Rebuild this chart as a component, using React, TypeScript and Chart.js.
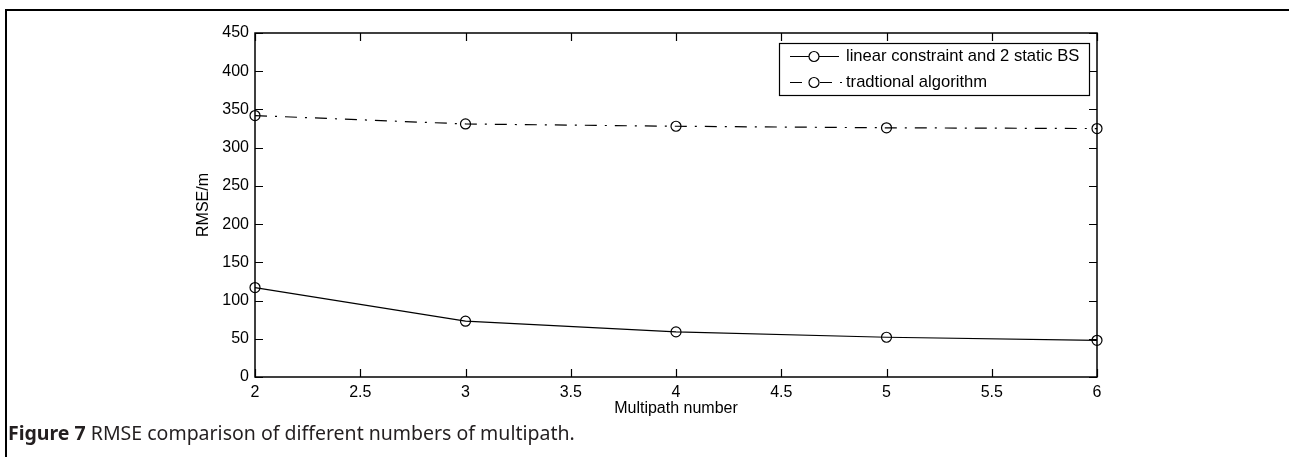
import React, { useEffect, useRef } from "react";
import { Chart, registerables } from "chart.js";

Chart.register(...registerables);

const multipathNumbers = [2, 3, 4, 5, 6];
const linearConstraintRmse = [117, 73, 59, 52, 48];
const traditionalRmse = [342, 331, 328, 326, 325];
const seriesLabels = ["linear constraint and 2 static BS", "tradtional algorithm"];
const xTickStep = 0.5;
const yTickStep = 50;

const FONT = "'Liberation Sans', Arial, sans-serif";

const boxPlugin = {
  id: "matlabBox",
  afterDraw(chart: any) {
    const { ctx, chartArea } = chart;
    const { left, right, top, bottom } = chartArea;
    const xs = chart.scales.x;
    const ys = chart.scales.y;
    const tl = 8;
    ctx.save();
    ctx.strokeStyle = "#000";
    ctx.lineWidth = 1.5;
    ctx.setLineDash([]);
    ctx.strokeRect(left, top, right - left, bottom - top);
    ctx.lineWidth = 1.2;
    ctx.beginPath();
    xs.ticks.forEach((t: any) => {
      const px = Math.round(xs.getPixelForValue(t.value)) + 0.5;
      ctx.moveTo(px, bottom);
      ctx.lineTo(px, bottom - tl);
      ctx.moveTo(px, top);
      ctx.lineTo(px, top + tl);
    });
    ys.ticks.forEach((t: any) => {
      const py = Math.round(ys.getPixelForValue(t.value)) + 0.5;
      ctx.moveTo(left, py);
      ctx.lineTo(left + tl, py);
      ctx.moveTo(right, py);
      ctx.lineTo(right - tl, py);
    });
    ctx.stroke();

    // legend
    const lx = 779.5, ly = 43.5, lw = 310, lh = 52;
    ctx.fillStyle = "#fff";
    ctx.fillRect(lx, ly, lw, lh);
    ctx.lineWidth = 1.2;
    ctx.strokeRect(lx, ly, lw, lh);
    const rows = [56.5, 82.5];
    chart.data.datasets.forEach((ds: any, i: number) => {
      const y = rows[i];
      const dash = ds.borderDash || [];
      ctx.strokeStyle = ds.borderColor;
      ctx.lineWidth = ds.borderWidth;
      ctx.setLineDash(dash);
      ctx.lineDashOffset = 0;
      ctx.beginPath();
      ctx.moveTo(790, y);
      ctx.lineTo(dash.length ? 843 : 839, y);
      ctx.stroke();
      ctx.setLineDash([]);
      ctx.beginPath();
      ctx.arc(814, y, ds.pointRadius, 0, Math.PI * 2);
      ctx.fillStyle = "#fff";
      ctx.fill();
      ctx.stroke();
      ctx.fillStyle = "#000";
      ctx.font = `16.6px ${FONT}`;
      ctx.textBaseline = "middle";
      ctx.textAlign = "left";
      ctx.fillText(ds.label, 846, y);
    });
    ctx.restore();
  },
};

export default function App() {
  const ref = useRef<HTMLCanvasElement | null>(null);

  useEffect(() => {
    if (!ref.current) return;
    const chart = new Chart(ref.current, {
      type: "line",
      data: {
        datasets: [
          {
            label: seriesLabels[0],
            data: multipathNumbers.map((x, i) => ({ x, y: linearConstraintRmse[i] })),
            borderColor: "#000",
            borderWidth: 1.2,
            pointRadius: 5,
            pointBorderWidth: 1.2,
            pointBackgroundColor: "rgba(0,0,0,0)",
            pointBorderColor: "#000",
            fill: false,
            tension: 0,
          },
          {
            label: seriesLabels[1],
            data: multipathNumbers.map((x, i) => ({ x, y: traditionalRmse[i] })),
            borderColor: "#000",
            borderWidth: 1.2,
            borderDash: [12, 8, 2, 8],
            pointRadius: 5,
            pointBorderWidth: 1.2,
            pointBackgroundColor: "rgba(0,0,0,0)",
            pointBorderColor: "#000",
            fill: false,
            tension: 0,
          },
        ],
      },
      plugins: [boxPlugin],
      options: {
        animation: false,
        responsive: false,
        maintainAspectRatio: false,
        clip: false,
        layout: { padding: { left: 190, top: 33, right: 192, bottom: 37 } },
        plugins: { legend: { display: false }, tooltip: { enabled: false } },
        scales: {
          x: {
            type: "linear",
            min: 2,
            max: 6,
            grid: { display: false, drawTicks: false },
            border: { display: false },
            ticks: {
              stepSize: xTickStep,
              color: "#000",
              font: { family: FONT, size: 16 },
              padding: 6,
              maxRotation: 0,
              callback: (v: any) => `${Number(v)}`,
            },
            title: {
              display: true,
              text: "Multipath number",
              color: "#000",
              font: { family: FONT, size: 16 },
              padding: { top: 0, bottom: 2 },
            },
            afterFit: (s: any) => {
              s.height = 43;
            },
          },
          y: {
            type: "linear",
            min: 0,
            max: 450,
            grid: { display: false, drawTicks: false },
            border: { display: false },
            ticks: {
              stepSize: yTickStep,
              color: "#000",
              font: { family: FONT, size: 16 },
              padding: 6,
            },
            title: {
              display: true,
              text: "RMSE/m",
              color: "#000",
              font: { family: FONT, size: 16 },
              padding: { top: 4, bottom: 0 },
            },
            afterFit: (s: any) => {
              s.width = 65;
            },
          },
        },
      },
    });
    return () => chart.destroy();
  }, []);

  return (
    <div
      style={{
        position: "fixed",
        left: 0,
        top: 0,
        width: 1289,
        height: 457,
        background: "#fff",
        overflow: "hidden",
      }}
    >
      <div
        style={{
          position: "absolute",
          left: 5,
          top: 9,
          right: 0,
          bottom: 0,
          borderTop: "2px solid #000",
          borderLeft: "2px solid #000",
        }}
      />
      <canvas ref={ref} width={1289} height={457} style={{ position: "absolute", left: 0, top: 0 }} />
      <div
        style={{
          position: "absolute",
          left: 8,
          top: 420,
          fontFamily: "'Noto Sans', 'Open Sans', sans-serif",
          fontSize: 19.5,
          color: "#231f20",
          whiteSpace: "nowrap",
          lineHeight: "26px",
        }}
      >
        <b>Figure 7</b> RMSE comparison of different numbers of multipath.
      </div>
    </div>
  );
}
